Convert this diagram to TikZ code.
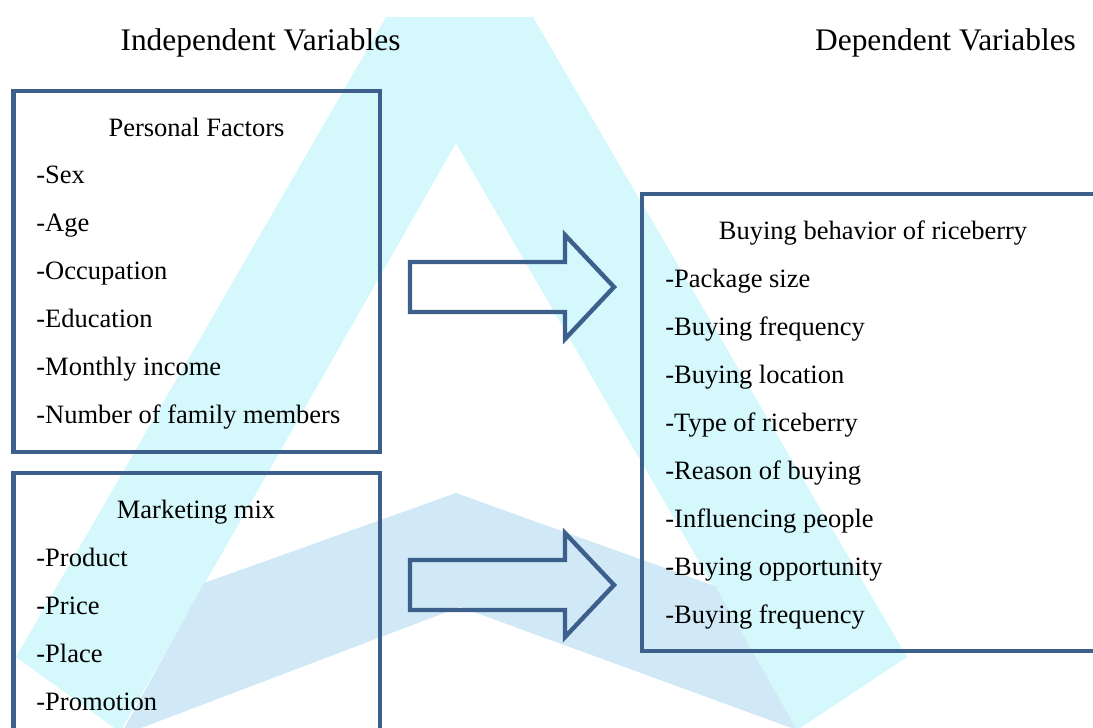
\documentclass[tikz,border=0pt]{standalone}
\usepackage{fontspec}
\setmainfont{Liberation Serif}
\definecolor{frame}{RGB}{60,95,140}
\definecolor{wmcyan}{RGB}{212,248,252}
\definecolor{wmblue}{RGB}{209,233,246}
\tikzset{
  panel/.style={draw=frame,line width=2.3pt},
  bigarrow/.style={draw=frame,line width=2.2pt,line join=miter},
  colhead/.style={font=\fontsize{15.7}{18}\selectfont,anchor=base,inner sep=0pt},
  boxtitle/.style={font=\fontsize{13.25}{16}\selectfont,anchor=base,inner sep=0pt},
  listitem/.style={font=\fontsize{13.25}{16}\selectfont,anchor=base west,inner sep=0pt}
}
\begin{document}
\begin{tikzpicture}[x=0.5pt,y=-0.5pt]
\useasboundingbox (0,0) rectangle (1093,728);
\clip (0,0) rectangle (1093,728);
% watermark
\fill[wmcyan] (386,17) -- (533,17) -- (907,657) -- (797,730) -- (456,143)
  -- (120,732) -- (16,657) -- cycle;
\fill[wmblue] (204,583) -- (456,493) -- (715,586) -- (797,730) -- (460,607)
  -- (120,736) -- cycle;
% headings
\node[colhead] (indep) at (260.5,50) {Independent Variables};
\node[colhead] (dep) at (945.5,50) {Dependent Variables};
% boxes
\draw[panel] (13.5,91) rectangle (380,452);
\draw[panel] (13.5,473) rectangle (380,760);
\draw[panel] (642,194) rectangle (1120,651);
\node[boxtitle] (pf) at (196.5,136) {Personal Factors};
\foreach \i/\t in {0/Sex,1/Age,2/Occupation,3/Education,4/Monthly income,5/Number of family members}
  \node[listitem] (pf\i) at (36,183+48*\i) {-\t};
\node[boxtitle] (mm) at (196,518) {Marketing mix};
\foreach \i/\t in {0/Product,1/Price,2/Place,3/Promotion}
  \node[listitem] (mm\i) at (36,566+48*\i) {-\t};
\node[boxtitle] (bb) at (873,239) {Buying behavior of riceberry};
\foreach \i/\t in {0/Package size,1/Buying frequency,2/Buying location,3/Type of riceberry,
  4/Reason of buying,5/Influencing people,6/Buying opportunity,7/Buying frequency}
  \node[listitem] (bb\i) at (665,287+48*\i) {-\t};
% block arrows
\foreach \n/\y in {a/287,b/585}
  \draw[bigarrow] (410,\y-25) -- (565,\y-25) -- (565,\y-52) -- (614,\y)
    -- (565,\y+52) -- (565,\y+25) -- (410,\y+25) -- cycle;
\end{tikzpicture}
\end{document}
